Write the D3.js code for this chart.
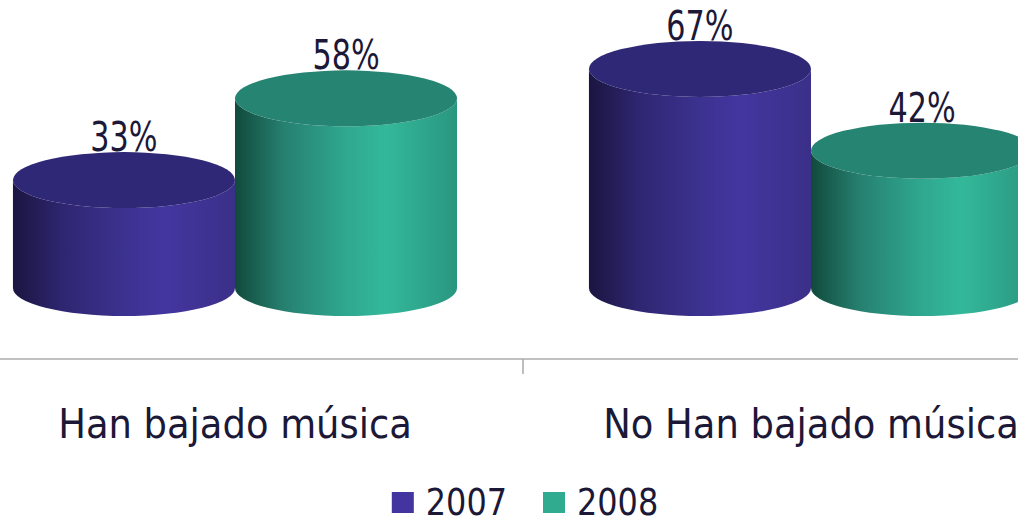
<!DOCTYPE html>
<html>
<head>
<meta charset="utf-8">
<script src="https://cdn.jsdelivr.net/npm/d3@7"></script>
<style>
  html, body { margin: 0; padding: 0; background: #fff; overflow: hidden; }
  svg { display: block; }
</style>
</head>
<body>
<div id="chart"></div>
<script>
// data
const categories = ["Han bajado música", "No Han bajado música"];
const series = ["2007", "2008"];
const values2007 = [33, 67];
const values2008 = [58, 42];
const seriesValues = [values2007, values2008];

const width = 1018, height = 523;
const baseY = 288;      // centre of the cylinders' bottom ellipse
const ry = 28;          // vertical radius of the ellipses
const axisY = 359;
const textColor = "#1b1838";

const colors = {
    "2007": { top: "#2f2876", legend: "#4235a0",
              stops: ["#1a1540", "#2e2670", "#3c3290", "#4336a0", "#3a3088"] },
    "2008": { top: "#268472", legend: "#31ab90",
              stops: ["#114a3c", "#268070", "#2fa890", "#33b89a", "#2a9680"] }
};

const svg = d3.select("#chart").append("svg")
    .attr("width", width)
    .attr("height", height);

// scales (plot area runs past the picture on both sides)
const x = d3.scaleBand()
    .domain(categories)
    .range([-53, 1099])
    .paddingInner(0)
    .paddingOuter(0);

const xSub = d3.scaleBand()
    .domain(series)
    .range([0, x.bandwidth()])
    .paddingInner(0)
    .paddingOuter(0.297);

const y = d3.scaleLinear()
    .domain([0, 80])
    .range([baseY, baseY - 80 * 3.27]);

// gradients for the cylinder bodies
const defs = svg.append("defs");
series.forEach(s => {
    const g = defs.append("linearGradient")
        .attr("id", "grad" + s)
        .attr("x1", "0%").attr("x2", "100%")
        .attr("y1", "0%").attr("y2", "0%");
    const offs = [0, 0.22, 0.5, 0.68, 1];
    colors[s].stops.forEach((c, i) => {
        g.append("stop").attr("offset", offs[i]).attr("stop-color", c);
    });
});

// flatten to bar records
const bars = [];
categories.forEach((c, ci) => {
    series.forEach((s, si) => {
        bars.push({ category: c, series: s, value: seriesValues[si][ci] });
    });
});

// axis line and ticks at band boundaries
svg.append("line")
    .attr("x1", 0).attr("x2", width)
    .attr("y1", axisY).attr("y2", axisY)
    .attr("stroke", "#c0c0c0")
    .attr("stroke-width", 2);

const boundaries = categories.map(c => x(c)).concat([x(categories[categories.length - 1]) + x.bandwidth()]);
svg.append("g")
    .selectAll("line")
    .data(boundaries)
    .join("line")
    .attr("x1", d => d).attr("x2", d => d)
    .attr("y1", axisY).attr("y2", axisY + 15)
    .attr("stroke", "#a8a8a8")
    .attr("stroke-width", 1.5);

// cylinders
const cyl = svg.append("g")
    .selectAll("g")
    .data(bars)
    .join("g");

cyl.each(function(d) {
    const g = d3.select(this);
    const x0 = x(d.category) + xSub(d.series);
    const w = xSub.bandwidth();
    const rx = w / 2;
    const cx = x0 + rx;
    const yt = y(d.value);

    // body: sides + front half of bottom ellipse + front half of top ellipse
    const body = `M${x0},${yt}` +
        ` L${x0},${baseY}` +
        ` A${rx},${ry} 0 0 0 ${x0 + w},${baseY}` +
        ` L${x0 + w},${yt}` +
        ` A${rx},${ry} 0 0 1 ${x0},${yt} Z`;
    g.append("path")
        .attr("d", body)
        .attr("fill", `url(#grad${d.series})`);

    g.append("ellipse")
        .attr("cx", cx)
        .attr("cy", yt)
        .attr("rx", rx)
        .attr("ry", ry)
        .attr("fill", colors[d.series].top);

    const label = d.value + "%";
    g.append("text")
        .attr("x", cx)
        .attr("y", yt - ry - 1)
        .attr("text-anchor", "middle")
        .attr("font-family", "'DejaVu Sans Condensed', 'DejaVu Sans', sans-serif")
        .attr("font-size", 41)
        .attr("textLength", label.length * 22.4)
        .attr("lengthAdjust", "spacingAndGlyphs")
        .attr("fill", textColor)
        .text(label);
});

// category labels
svg.append("g")
    .selectAll("text")
    .data(categories)
    .join("text")
    .attr("x", d => x(d) + x.bandwidth() / 2)
    .attr("y", 438)
    .attr("text-anchor", "middle")
    .attr("font-family", "'DejaVu Sans Condensed', 'DejaVu Sans', sans-serif")
    .attr("font-size", 41)
    .attr("fill", textColor)
    .text(d => d);

// legend
const legend = svg.append("g");
const items = legend.selectAll("g")
    .data(series)
    .join("g");

items.append("rect")
    .attr("width", 22)
    .attr("height", 21)
    .attr("y", 492)
    .attr("fill", s => colors[s].legend);

items.append("text")
    .attr("x", 34)
    .attr("y", 515)
    .attr("font-family", "'DejaVu Sans Condensed', 'DejaVu Sans', sans-serif")
    .attr("font-size", 37)
    .attr("textLength", s => s.length * 20.3)
    .attr("lengthAdjust", "spacingAndGlyphs")
    .attr("fill", textColor)
    .text(s => s);

const gap = 36;
items.each(function() {
    const t = d3.select(this).select("text").node().getComputedTextLength();
    d3.select(this).attr("data-w", 34 + t);
});
const totalW = d3.sum(items.nodes(), n => +n.getAttribute("data-w")) + gap * (series.length - 1);
let cursor = 525 - totalW / 2;
items.each(function() {
    d3.select(this).attr("transform", `translate(${cursor},0)`);
    cursor += +this.getAttribute("data-w") + gap;
});
</script>
</body>
</html>
